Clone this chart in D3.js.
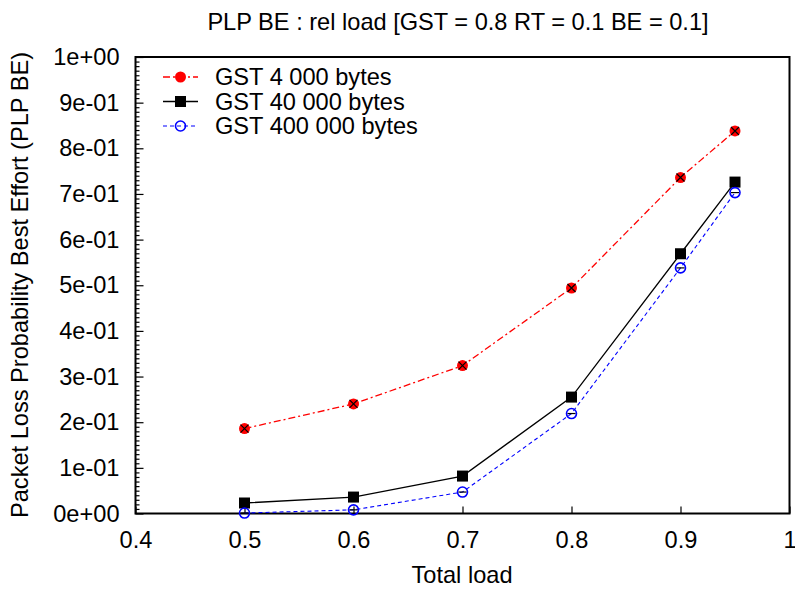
<!DOCTYPE html>
<html>
<head>
<meta charset="utf-8">
<script src="https://cdn.jsdelivr.net/npm/d3@7"></script>
<style>
  body { margin: 0; background: #fff; }
  text { font-family: "Liberation Sans", Arial, sans-serif; }
</style>
</head>
<body>
<div id="chart"></div>
<script>
let width = 795, height = 590;

// data
let loads = [0.5, 0.6, 0.7, 0.8, 0.9, 0.95];
let gst4k = [0.186, 0.240, 0.324, 0.494, 0.736, 0.838];
let gst40k = [0.023, 0.036, 0.082, 0.255, 0.569, 0.726];
let gst400k = [0.001, 0.008, 0.047, 0.219, 0.538, 0.703];
let seriesNames = ["GST 4 000 bytes", "GST 40 000 bytes", "GST 400 000 bytes"];
let xTicks = [0.4, 0.5, 0.6, 0.7, 0.8, 0.9, 1];
let yTicks = [0, 0.1, 0.2, 0.3, 0.4, 0.5, 0.6, 0.7, 0.8, 0.9, 1];

let fs = 23.6;

let x = d3.scaleLinear().domain([0.4, 1]).range([135.5, 789.5]);
let y = d3.scaleLinear().domain([0, 1]).range([513.5, 57]);

let svg = d3.select("#chart").append("svg")
    .attr("width", width)
    .attr("height", height);

let series = [
    {name: seriesNames[0], values: gst4k, color: "red", dash: "7,3,2,3", width: 1.3, mark: "dot"},
    {name: seriesNames[1], values: gst40k, color: "black", dash: null, width: 1.3, mark: "square"},
    {name: seriesNames[2], values: gst400k, color: "blue", dash: "4,3", width: 1.1, mark: "ring"}
];

// axes: ticks pointing inward
let fmt = d => d3.format(".0e")(d).replace(/e([+-])(\d)$/, "e$10$2");
svg.append("g")
    .attr("transform", "translate(0," + y(0) + ")")
    .call(d3.axisBottom(x).tickValues(xTicks).tickSize(-7).tickPadding(18).tickFormat(d => d === 1 ? "1" : d3.format(".1f")(d)))
    .call(g => g.select(".domain").remove());

let minor = d3.range(0, 100).map(i => i / 100).filter(v => Math.round(v * 100) % 10 !== 0);
svg.append("g")
    .attr("transform", "translate(" + x(0.4) + ",0)")
    .call(d3.axisLeft(y).tickValues(minor).tickSize(-4).tickFormat(""))
    .call(g => g.select(".domain").remove());
svg.append("g")
    .attr("transform", "translate(" + x(0.4) + ",0)")
    .call(d3.axisLeft(y).tickValues(yTicks).tickSize(-8).tickPadding(16).tickFormat(fmt))
    .call(g => g.select(".domain").remove());

svg.selectAll(".tick line").attr("stroke", "black").attr("stroke-width", 1.2);
svg.selectAll(".tick text").attr("font-size", fs).attr("fill", "black")
    .style("font-family", "'Liberation Sans', Arial, sans-serif");

// frame
svg.append("rect")
    .attr("x", x(0.4)).attr("y", y(1))
    .attr("width", x(1) - x(0.4)).attr("height", y(0) - y(1))
    .attr("fill", "none").attr("stroke", "black").attr("stroke-width", 2);

let line = d3.line().x(d => x(d[0])).y(d => y(d[1]));

function drawMark(g, s, px, py, extras) {
    if (s.mark === "dot") {
        g.append("circle").attr("cx", px).attr("cy", py).attr("r", 5.5).attr("fill", s.color);
        if (extras) {
            g.append("path")
                .attr("d", `M${px-4},${py-4}L${px+4},${py+4}M${px-4},${py+4}L${px+4},${py-4}`)
                .attr("stroke", "black").attr("stroke-width", 1.2);
        }
    } else if (s.mark === "square") {
        g.append("rect").attr("x", px - 5.5).attr("y", py - 5.5)
            .attr("width", 11).attr("height", 11).attr("fill", "black");
    } else {
        g.append("circle").attr("cx", px).attr("cy", py).attr("r", 5)
            .attr("fill", "none").attr("stroke", s.color).attr("stroke-width", 1.6);
        if (extras) {
            g.append("path").attr("d", `M${px-4},${py}L${px+4},${py}`)
                .attr("stroke", "black").attr("stroke-width", 1.2);
        }
    }
}

series.forEach(function(s) {
    let pts = loads.map((l, i) => [l, s.values[i]]);
    svg.append("path")
        .datum(pts)
        .attr("d", line)
        .attr("fill", "none")
        .attr("stroke", s.color)
        .attr("stroke-width", s.width)
        .attr("stroke-dasharray", s.dash);
    let g = svg.append("g");
    pts.forEach(p => drawMark(g, s, x(p[0]), y(p[1]), true));
});

// legend
let legend = svg.append("g");
series.forEach(function(s, i) {
    let ly = 77 + i * 24.5;
    legend.append("line")
        .attr("x1", 163).attr("x2", 198).attr("y1", ly).attr("y2", ly)
        .attr("stroke", s.color).attr("stroke-width", s.width)
        .attr("stroke-dasharray", s.dash);
    drawMark(legend, s, 180.5, ly, false);
    legend.append("text")
        .attr("x", 215).attr("y", ly + 8)
        .attr("font-size", fs)
        .text(s.name);
});

// titles
svg.append("text")
    .attr("x", 458).attr("y", 30)
    .attr("text-anchor", "middle").attr("font-size", fs)
    .text("PLP BE : rel load [GST = 0.8 RT = 0.1 BE = 0.1]");

svg.append("text")
    .attr("x", 462).attr("y", 583)
    .attr("text-anchor", "middle").attr("font-size", fs)
    .text("Total load");

svg.append("text")
    .attr("transform", "translate(28,285) rotate(-90)")
    .attr("text-anchor", "middle").attr("font-size", fs)
    .text("Packet Loss Probability Best Effort (PLP BE)");
</script>
</body>
</html>
